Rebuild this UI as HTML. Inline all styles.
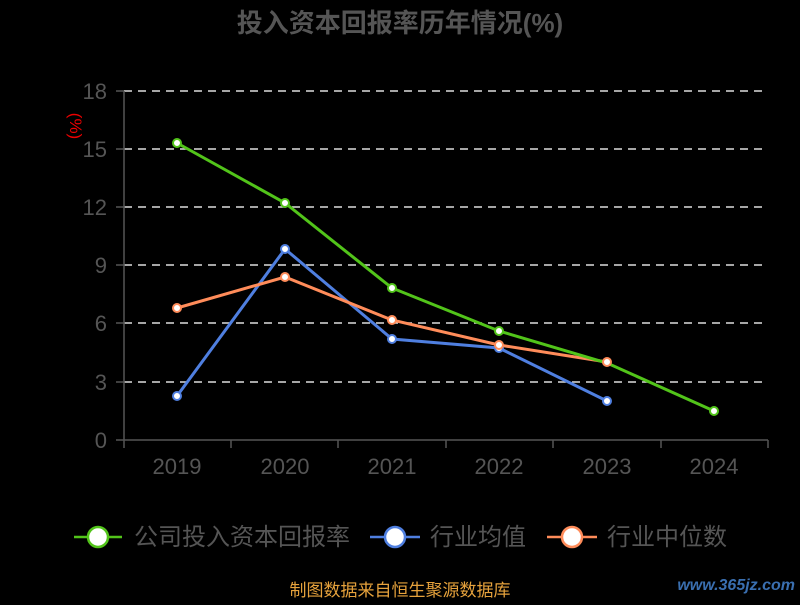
<!DOCTYPE html>
<html><head><meta charset="utf-8"><style>
body{margin:0;background:#000;width:800px;height:600px;overflow:hidden}
svg text{font-family:"Liberation Sans","Noto Sans CJK SC",sans-serif}
</style></head><body>
<svg width="800" height="600" xmlns="http://www.w3.org/2000/svg">
<rect width="800" height="600" fill="#000"/>
<text x="400" y="32" text-anchor="middle" font-size="26" font-weight="bold" fill="#555">投入资本回报率历年情况(%)</text>
<text transform="translate(70,126) rotate(90)" text-anchor="middle" font-size="17" fill="#e00">(%)</text>
<g stroke="#ddd" stroke-width="1.5" stroke-dasharray="8,6">
<line x1="124" y1="91" x2="768" y2="91"/><line x1="124" y1="149" x2="768" y2="149"/>
<line x1="124" y1="207" x2="768" y2="207"/><line x1="124" y1="265" x2="768" y2="265"/>
<line x1="124" y1="323" x2="768" y2="323"/><line x1="124" y1="382" x2="768" y2="382"/>
</g>
<g stroke="#555" stroke-width="1.5">
<line x1="124" y1="91" x2="124" y2="440"/><line x1="116" y1="440" x2="768" y2="440"/>
<line x1="116" y1="91" x2="124" y2="91"/><line x1="116" y1="149" x2="124" y2="149"/><line x1="116" y1="207" x2="124" y2="207"/><line x1="116" y1="265" x2="124" y2="265"/><line x1="116" y1="323" x2="124" y2="323"/><line x1="116" y1="382" x2="124" y2="382"/>
<line x1="124" y1="440" x2="124" y2="448"/><line x1="231" y1="440" x2="231" y2="448"/><line x1="338" y1="440" x2="338" y2="448"/><line x1="446" y1="440" x2="446" y2="448"/><line x1="553" y1="440" x2="553" y2="448"/><line x1="661" y1="440" x2="661" y2="448"/><line x1="768" y1="440" x2="768" y2="448"/>
</g>
<g font-size="22" fill="#555" text-anchor="end">
<text x="107" y="99">18</text><text x="107" y="157">15</text><text x="107" y="215">12</text><text x="107" y="273">9</text><text x="107" y="331">6</text><text x="107" y="390">3</text><text x="107" y="448">0</text>
</g>
<g font-size="22" fill="#555" text-anchor="middle">
<text x="177" y="474">2019</text><text x="285" y="474">2020</text><text x="392" y="474">2021</text><text x="499" y="474">2022</text><text x="607" y="474">2023</text><text x="714" y="474">2024</text>
</g>
<polyline fill="none" stroke="#4f7fe0" stroke-width="3" points="177,396 285,249 392,339 499,348 607,401"/>
<polyline fill="none" stroke="#ff8c5a" stroke-width="3" points="177,308 285,277 392,320 499,345 607,362"/>
<polyline fill="none" stroke="#52c41a" stroke-width="3" points="177,143 285,203 392,288 499,331 607,363 714,411"/>
<g fill="#fff" stroke-width="2">
<g stroke="#4f7fe0"><circle cx="177" cy="396" r="4"/><circle cx="285" cy="249" r="4"/><circle cx="392" cy="339" r="4"/><circle cx="499" cy="348" r="4"/><circle cx="607" cy="401" r="4"/></g>
<g stroke="#ff8c5a"><circle cx="177" cy="308" r="4"/><circle cx="285" cy="277" r="4"/><circle cx="392" cy="320" r="4"/><circle cx="499" cy="345" r="4"/><circle cx="607" cy="362" r="4"/></g>
<g stroke="#52c41a"><circle cx="177" cy="143" r="4"/><circle cx="285" cy="203" r="4"/><circle cx="392" cy="288" r="4"/><circle cx="499" cy="331" r="4"/><circle cx="714" cy="411" r="4"/></g>
</g>
<g stroke-width="2.5">
<line x1="74" y1="537" x2="122" y2="537" stroke="#52c41a"/><circle cx="98" cy="537" r="10" fill="#fff" stroke="#52c41a"/>
<line x1="370" y1="537" x2="420" y2="537" stroke="#4f7fe0"/><circle cx="395" cy="537" r="10" fill="#fff" stroke="#4f7fe0"/>
<line x1="547" y1="537" x2="597" y2="537" stroke="#ff8c5a"/><circle cx="572" cy="537" r="10" fill="#fff" stroke="#ff8c5a"/>
</g>
<g font-size="24" fill="#555">
<text x="134" y="545">公司投入资本回报率</text><text x="430" y="545">行业均值</text><text x="607" y="545">行业中位数</text>
</g>
<text x="400" y="596" text-anchor="middle" font-size="17" fill="#e6a23c">制图数据来自恒生聚源数据库</text>
<text x="795" y="590" text-anchor="end" font-size="16" font-weight="bold" font-style="italic" fill="#3a6fb0">www.365jz.com</text>
</svg>
</body></html>
